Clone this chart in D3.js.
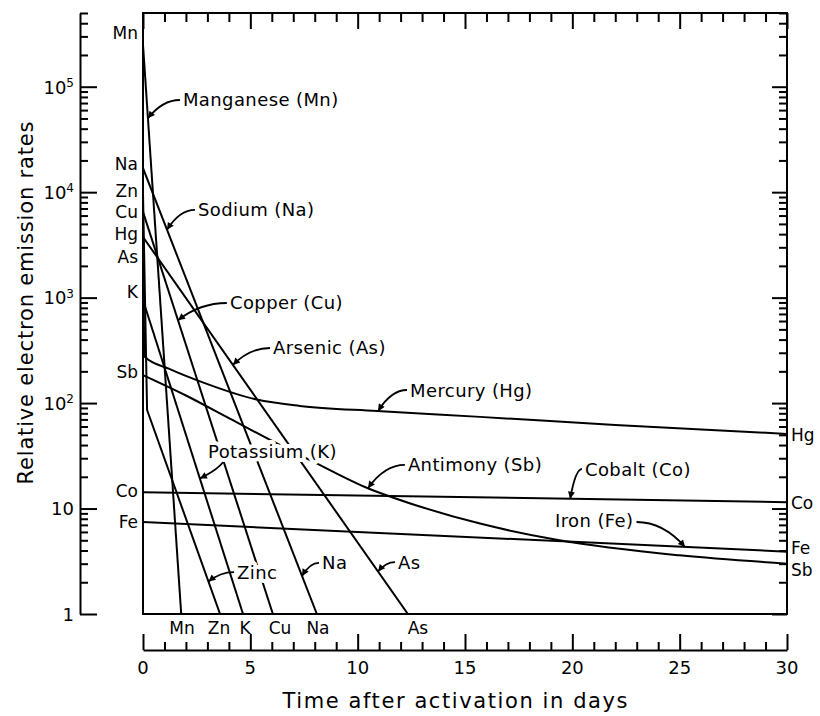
<!DOCTYPE html>
<html><head><meta charset="utf-8">
<script src="https://cdn.jsdelivr.net/npm/d3@7"></script>
<style>
body{margin:0;background:#fff;}
svg{display:block;font-family:"DejaVu Sans",sans-serif;}
</style></head><body>
<svg id="chart" width="820" height="716"></svg>
<script>
// ---------- data (time in days, relative emission rate) ----------
const mnData = [[0, 2.5e5], [1.78, 1]];
const naData = [[0, 1.69e4], [8.1, 1]];
const znData = [[0, 9.8e3], [0.19, 86], [3.59, 1]];
const cuData = [[0, 6.5e3], [6.05, 1]];
const kData  = [[0, 950], [4.66, 1]];
const asData = [[0, 3.76e3], [12.34, 1]];
const hgData = [[0, 3.9e3], [0.08, 275], [1.2, 212], [2.75, 158], [5.3, 108], [7.3, 94], [10.9, 84], [15.7, 74], [22, 62], [30, 51]];
const sbData = [[0, 184], [2, 118], [4, 72], [6.7, 37], [7.9, 28], [10.5, 15.5], [11.7, 12.6], [15.7, 7.2], [19.4, 5.0], [25, 3.6], [30, 3.0]];
const coData = [[0, 14.3], [30, 11.5]];
const feData = [[0, 7.45], [30, 3.9]];

const seriesNames = ["Mn", "Na", "Zn", "Cu", "K", "As", "Hg", "Sb", "Co", "Fe"];
const seriesData  = [mnData, naData, znData, cuData, kData, asData, hgData, sbData, coData, feData];
const curvedSeries = ["Hg", "Sb"];

// element labels at left (value where label sits), right, bottom (time)
const leftLabels   = ["Mn", "Na", "Zn", "Cu", "Hg", "As", "K", "Sb", "Co", "Fe"];
const leftLabelVal = [3.23e5, 1.85e4, 1.03e4, 6.48e3, 4.0e3, 2.43e3, 1.13e3, 197, 14.7, 7.45];
const rightLabels   = ["Hg", "Co", "Fe", "Sb"];
const rightLabelVal = [49.8, 11.3, 4.22, 2.61];
const bottomLabels  = ["Mn", "Zn", "K", "Cu", "Na", "As"];
const bottomLabelT  = [1.82, 3.54, 4.75, 6.38, 8.15, 12.81];

const xTickLabels = [0, 5, 10, 15, 20, 25, 30];
const yDecades = [1, 10, 100, 1e3, 1e4, 1e5];
const yDecadeExp = ["", "", "2", "3", "4", "5"];

// annotations (text anchor in data coords, arrow tip on a series at time tipT)
const annotations = [
  {text: "Manganese (Mn)", series: "Mn", tipT: 0.23, t: 1.86, v: 74800, side: "left"},
  {text: "Sodium (Na)",    series: "Na", tipT: 1.12, t: 2.56, v: 6780,  side: "left"},
  {text: "Copper (Cu)",    series: "Cu", tipT: 1.63, t: 4.05, v: 889,   side: "left"},
  {text: "Arsenic (As)",   series: "As", tipT: 4.19, t: 6.06, v: 333,   side: "left"},
  {text: "Mercury (Hg)",   series: "Hg", tipT: 10.95, t: 12.44, v: 133, side: "left"},
  {text: "Potassium (K)",  series: "K",  tipT: 2.65, t: 3.03, v: 34.4,  side: "below"},
  {text: "Antimony (Sb)",  series: "Sb", tipT: 10.48, t: 12.34, v: 25.9, side: "left"},
  {text: "Cobalt (Co)",    series: "Co", tipT: 19.9, t: 20.59, v: 23.7, side: "left"},
  {text: "Iron (Fe)",      series: "Fe", tipT: 25.25, t: 19.19, v: 7.62, side: "right"},
  {text: "Zinc",           series: "Zn", tipT: 3.05, t: 4.38, v: 2.5,   side: "left"},
  {text: "Na",             series: "Na", tipT: 7.41, t: 8.34, v: 3.05,  side: "left"},
  {text: "As",             series: "As", tipT: 10.95, t: 11.88, v: 3.11, side: "left"}
];

// ---------- chart ----------
const svg = d3.select("#chart");
const x = d3.scaleLinear().domain([0, 30]).range([143, 787]);
const y = d3.scaleLog().domain([1, 5e5]).range([614, 13]);
const SW = 2;

// marker
svg.append("defs").append("marker")
  .attr("id", "arrow").attr("viewBox", "0 0 10 10").attr("refX", 10).attr("refY", 5)
  .attr("markerWidth", 11).attr("markerHeight", 7).attr("markerUnits", "userSpaceOnUse")
  .attr("orient", "auto")
  .append("path").attr("d", "M0,0 L10,5 L0,10 Z").attr("fill", "#000");

function styleAxis(g) {
  g.selectAll("line").attr("stroke", "#000").attr("stroke-width", SW);
  g.selectAll("path.domain").attr("stroke", "#000").attr("stroke-width", SW);
  g.selectAll("text").remove();
}

// top frame ticks
const dayTicks = d3.range(0, 31);
svg.append("g").attr("transform", `translate(0,${y(5e5)})`)
  .call(d3.axisBottom(x).tickValues(dayTicks.filter(d => d % 5 !== 0)).tickSize(9).tickSizeOuter(0).tickFormat(""))
  .call(g => g.select(".domain").remove()).call(styleAxis);
svg.append("g").attr("transform", `translate(0,${y(5e5)})`)
  .call(d3.axisBottom(x).tickValues(dayTicks.filter(d => d % 5 === 0)).tickSize(16).tickSizeOuter(0).tickFormat(""))
  .call(g => g.select(".domain").remove()).call(styleAxis);

// log minor ticks
const minorVals = [];
for (let k = 0; k <= 5; k++) for (let m = 2; m <= 9; m++) { const v = m * Math.pow(10, k); if (v <= 5e5) minorVals.push(v); }

// right frame ticks
svg.append("g").attr("transform", `translate(${x(30)},0)`)
  .call(d3.axisLeft(y).tickValues(minorVals).tickSize(8).tickSizeOuter(0).tickFormat(""))
  .call(g => g.select(".domain").remove()).call(styleAxis);
svg.append("g").attr("transform", `translate(${x(30)},0)`)
  .call(d3.axisLeft(y).tickValues(yDecades).tickSize(15).tickSizeOuter(0).tickFormat(""))
  .call(g => g.select(".domain").remove()).call(styleAxis);

// left separate axis
const leftX = 80;
svg.append("g").attr("transform", `translate(${leftX},0)`)
  .call(d3.axisRight(y).tickValues(minorVals).tickSize(8).tickSizeOuter(0).tickFormat(""))
  .call(styleAxis);
svg.append("g").attr("transform", `translate(${leftX},0)`)
  .call(d3.axisRight(y).tickValues(yDecades).tickSize(17).tickSizeOuter(0).tickFormat(""))
  .call(g => g.select(".domain").remove()).call(styleAxis);

// y tick labels
yDecades.forEach((v, i) => {
  const t = svg.append("text").attr("x", leftX - 6).attr("y", y(v)).attr("dy", "0.38em")
    .attr("text-anchor", "end").attr("font-size", 18);
  if (v === 1) t.text("1");
  else {
    t.append("tspan").text("10");
    if (yDecadeExp[i]) t.append("tspan").attr("dy", "-0.55em").attr("font-size", 12).text(yDecadeExp[i]);
  }
});

// bottom separate x axis
const axisY = 650;
svg.append("g").attr("transform", `translate(0,${axisY})`)
  .call(d3.axisTop(x).tickValues(dayTicks.filter(d => d % 5 !== 0)).tickSize(8).tickSizeOuter(0).tickFormat(""))
  .call(styleAxis);
svg.append("g").attr("transform", `translate(0,${axisY})`)
  .call(d3.axisTop(x).tickValues(xTickLabels).tickSize(16).tickSizeOuter(0).tickFormat(""))
  .call(g => g.select(".domain").remove()).call(styleAxis);
svg.selectAll(".xlab").data(xTickLabels).enter().append("text")
  .attr("x", d => x(d)).attr("y", 668).attr("dy", "0.36em")
  .attr("text-anchor", "middle").attr("font-size", 18).text(d => d);

// axis titles
svg.append("text").attr("x", 455).attr("y", 708).attr("text-anchor", "middle")
  .attr("font-size", 21).attr("textLength", 345).attr("lengthAdjust", "spacing")
  .text("Time after activation in days");
svg.append("text").attr("transform", "translate(33,303) rotate(-90)").attr("text-anchor", "middle")
  .attr("font-size", 21).attr("textLength", 363).attr("lengthAdjust", "spacing")
  .text("Relative electron emission rates");

// frame
svg.append("rect").attr("x", x(0)).attr("y", y(5e5)).attr("width", x(30) - x(0)).attr("height", y(1) - y(5e5))
  .attr("fill", "none").attr("stroke", "#000").attr("stroke-width", SW);

// series lines
const clip = svg.append("clipPath").attr("id", "plotclip").append("rect")
  .attr("x", x(0)).attr("y", y(5e5)).attr("width", x(30) - x(0)).attr("height", y(1) - y(5e5));
const gLines = svg.append("g").attr("clip-path", "url(#plotclip)");
seriesNames.forEach((name, i) => {
  const gen = d3.line().x(d => x(d[0])).y(d => y(d[1]))
    .curve(curvedSeries.includes(name) ? d3.curveMonotoneX : d3.curveLinear);
  gLines.append("path").datum(seriesData[i]).attr("d", gen)
    .attr("fill", "none").attr("stroke", "#000").attr("stroke-width", SW).attr("stroke-linejoin", "round");
});

function valueAt(data, t) {
  for (let i = 0; i < data.length - 1; i++) {
    const a = data[i], b = data[i + 1];
    if (t >= a[0] && t <= b[0]) {
      const f = (t - a[0]) / (b[0] - a[0]);
      return Math.pow(10, Math.log10(a[1]) + f * (Math.log10(b[1]) - Math.log10(a[1])));
    }
  }
  return data[data.length - 1][1];
}

// annotations
const gAnn = svg.append("g");
annotations.forEach(a => {
  const txt = gAnn.append("text").attr("x", x(a.t)).attr("y", y(a.v)).attr("dy", "0.36em")
    .attr("font-size", 18).attr("letter-spacing", 0.4)
    .attr("stroke", "#fff").attr("stroke-width", 8).attr("paint-order", "stroke").attr("stroke-linejoin", "round")
    .attr("fill", "#000").text(a.text);
  const bb = txt.node().getBBox();
  const data = seriesData[seriesNames.indexOf(a.series)];
  const tx = x(a.tipT), ty = y(valueAt(data, a.tipT));
  let sx, sy, cx, cy;
  if (a.side === "left") { sx = bb.x - 3; sy = y(a.v); cx = tx + (sx - tx) * 0.45; cy = sy; }
  else if (a.side === "right") { sx = bb.x + bb.width + 3; sy = y(a.v) + 1; cx = sx + (tx - sx) * 0.55; cy = sy; }
  else { sx = bb.x + 16; sy = bb.y + bb.height - 2; cx = sx - 4; cy = sy + 8; }
  gAnn.insert("path", "text").attr("d", `M${sx},${sy} Q${cx},${cy} ${tx},${ty}`)
    .attr("fill", "none").attr("stroke", "#000").attr("stroke-width", 1.8).attr("marker-end", "url(#arrow)");
});

// element labels
svg.selectAll(".llab").data(leftLabels).enter().append("text")
  .attr("x", x(0) - 5).attr("y", (d, i) => y(leftLabelVal[i])).attr("dy", "0.36em")
  .attr("text-anchor", "end").attr("font-size", 17).text(d => d);
svg.selectAll(".rlab").data(rightLabels).enter().append("text")
  .attr("x", x(30) + 4).attr("y", (d, i) => y(rightLabelVal[i])).attr("dy", "0.36em")
  .attr("font-size", 17).text(d => d);
svg.selectAll(".blab").data(bottomLabels).enter().append("text")
  .attr("x", (d, i) => x(bottomLabelT[i])).attr("y", 628).attr("dy", "0.36em")
  .attr("text-anchor", "middle").attr("font-size", 17).text(d => d);
</script>
</body></html>
